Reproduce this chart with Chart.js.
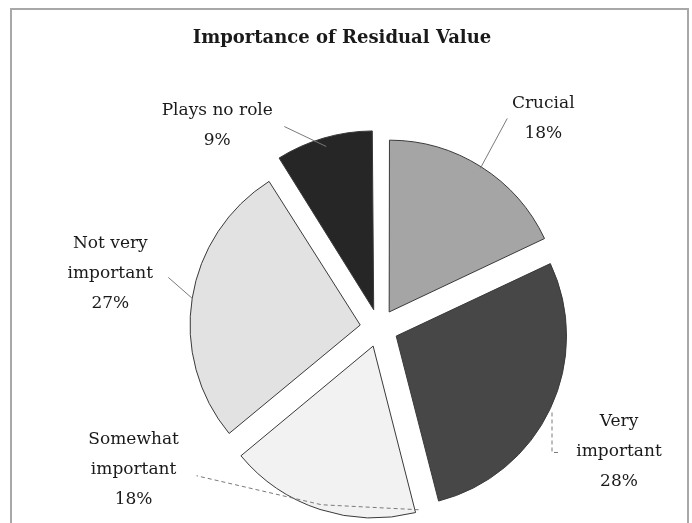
<!DOCTYPE html>
<html>
<head>
<meta charset="utf-8">
<script src="https://cdn.jsdelivr.net/npm/chart.js@4.4.1/dist/chart.umd.min.js"></script>
<style>
  html, body { margin: 0; padding: 0; background: #fff; }
  #wrap { width: 692px; height: 523px; }
</style>
</head>
<body>
<div id="wrap"><canvas id="residualChart" width="692" height="523"></canvas></div>
<script>
// Data
const categories = ['Crucial', 'Very important', 'Somewhat important', 'Not very important', 'Plays no role'];
const shares = [18, 28, 18, 27, 9];
const labelLines = [['Crucial'], ['Very', 'important'], ['Somewhat', 'important'], ['Not very', 'important'], ['Plays no role']];
const chartTitle = 'Importance of Residual Value';

const sliceColors = ['#a5a5a5', '#474747', '#f2f2f2', '#e2e2e2', '#262626'];

// Label placement, relative to the outer mid point of each slice
const labelPlacement = [
    { dx: 63, dy: -50, leader: [[0, 0], [27, -50]], dashed: false },
    { dx: 69, dy: 43, leader: [[2, 4], [2, 44], [8, 44]], dashed: true },
    { dx: -187, dy: -38, leader: [[98, 2], [1, -3], [-124, -32]], dashed: true },
    { dx: -82, dy: -25, leader: [[0, 0], [-24, -21]], dashed: false },
    { dx: -109, dy: -21, leader: [[0, 0], [-42, -20]], dashed: false }
];

const LINE_GAP = 30;
const LABEL_FONT = '17px "DejaVu Serif", serif';

const framePlugin = {
    id: 'frame',
    beforeDraw(chart) {
        const ctx = chart.ctx;
        ctx.save();
        ctx.fillStyle = '#fff';
        ctx.fillRect(0, 0, chart.width, chart.height);
        ctx.strokeStyle = '#a8a8a8';
        ctx.lineWidth = 2;
        ctx.strokeRect(11, 9, 677, 530);
        ctx.restore();
    }
};

const outsideLabels = {
    id: 'outsideLabels',
    afterDraw(chart) {
        const ctx = chart.ctx;
        const meta = chart.getDatasetMeta(0);
        ctx.save();

        // title, drawn by hand so it stays centred on the page rather than the pie
        ctx.font = 'bold 18px "DejaVu Serif", serif';
        ctx.fillStyle = '#1a1a1a';
        ctx.textAlign = 'center';
        ctx.textBaseline = 'middle';
        ctx.fillText(chartTitle, 342, 38);

        meta.data.forEach((arc, i) => {
            const p = arc.getProps(['x', 'y', 'startAngle', 'endAngle', 'outerRadius'], true);
            const mid = (p.startAngle + p.endAngle) / 2;
            const shift = (arc.options.offset || 0) / 4;
            const ax = p.x + Math.cos(mid) * (p.outerRadius + shift);
            const ay = p.y + Math.sin(mid) * (p.outerRadius + shift);
            const place = labelPlacement[i];

            // leader line
            ctx.strokeStyle = '#7a7a7a';
            ctx.lineWidth = 1;
            ctx.setLineDash(place.dashed ? [4, 3] : []);
            ctx.beginPath();
            place.leader.forEach((pt, k) => {
                if (k === 0) ctx.moveTo(ax + pt[0], ay + pt[1]);
                else ctx.lineTo(ax + pt[0], ay + pt[1]);
            });
            ctx.stroke();
            ctx.setLineDash([]);

            // text block
            const lines = labelLines[i].concat([shares[i] + '%']);
            const top = ay + place.dy - (lines.length - 1) * LINE_GAP / 2;
            ctx.font = LABEL_FONT;
            ctx.fillStyle = '#1a1a1a';
            lines.forEach((txt, k) => {
                ctx.fillText(txt, ax + place.dx, top + k * LINE_GAP);
            });
        });
        ctx.restore();
    }
};

new Chart(document.getElementById('residualChart'), {
    type: 'pie',
    data: {
        labels: categories,
        datasets: [{
            data: shares,
            backgroundColor: sliceColors,
            borderColor: '#3a3a3a',
            borderWidth: 1,
            offset: 76,
            radius: 170
        }]
    },
    options: {
        responsive: false,
        animation: false,
        rotation: 0,
        layout: {
            padding: { top: 143, bottom: 10, left: 66, right: 0 }
        },
        plugins: {
            legend: { display: false },
            title: { display: false },
            tooltip: { enabled: false }
        }
    },
    plugins: [framePlugin, outsideLabels]
});
</script>
</body>
</html>
